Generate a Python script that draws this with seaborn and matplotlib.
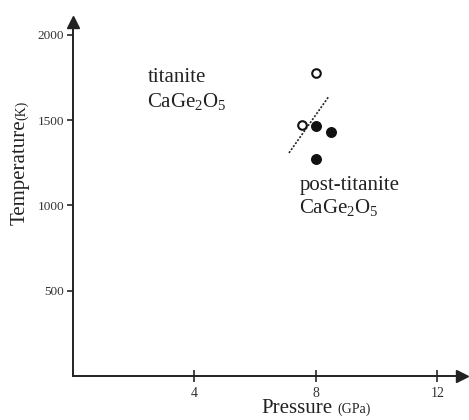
import numpy as np
import pandas as pd
import matplotlib
matplotlib.use("Agg")
import matplotlib.pyplot as plt
import seaborn as sns

# data
open_p = [8.0, 7.55]
open_t = [1775, 1470]
filled_p = [8.0, 8.5, 8.0]
filled_t = [1468, 1430, 1272]
boundary_p = [7.12, 8.44]
boundary_t = [1308, 1642]
xticks = [4, 8, 12]
yticks = [500, 1000, 1500, 2000]

sns.set_style("ticks")
plt.rcParams['font.family'] = ['Liberation Serif', 'DejaVu Serif']
plt.rcParams['mathtext.fontset'] = 'custom'
plt.rcParams['mathtext.rm'] = 'Liberation Serif'
plt.rcParams['mathtext.it'] = 'Liberation Serif:italic'

fig = plt.figure(figsize=(4.69, 4.2), dpi=100, facecolor='white')
ax = fig.add_axes([0.1546, 0.1048, 0.8305, 0.843])

sns.lineplot(x=boundary_p, y=boundary_t, ax=ax, color='#222222',
             linewidth=1.2, linestyle=(0, (1.2, 1.0)))
sns.scatterplot(x=filled_p, y=filled_t, ax=ax, color='#111111', s=50,
                edgecolor='#111111', linewidth=0.8, zorder=3)
sns.scatterplot(x=open_p, y=open_t, ax=ax, facecolor='white', s=38,
                edgecolor='#111111', linewidth=1.5, zorder=3)

ax.set_xlim(0, 12.81)
ax.set_ylim(0, 2076)
ax.set_xticks(xticks)
ax.set_yticks(yticks)
ax.set_xticklabels([str(v) for v in xticks], fontsize=10, color='#333333')
ax.set_yticklabels([str(v) for v in yticks], fontsize=9.5, color='#333333')
ax.tick_params(axis='x', direction='inout', length=8, width=1.2, pad=4)
ax.tick_params(axis='y', direction='out', length=4, width=1.2, pad=2)
for s in ['top', 'right']:
    ax.spines[s].set_visible(False)
for s in ['left', 'bottom']:
    ax.spines[s].set_linewidth(1.4)
    ax.spines[s].set_color('#222222')
ax.set_xlabel('')
ax.set_ylabel('')

# arrow heads
ax.plot(1, 0, marker='>', color='#222222', markersize=9,
        transform=ax.transAxes, clip_on=False)
ax.plot(0, 1, marker='^', color='#222222', markersize=9,
        transform=ax.transAxes, clip_on=False)

# phase labels
txt = dict(fontsize=15, color='#222222', ha='left', va='baseline')
ax.text(2.48, 1724, 'titanite', **txt)
ax.text(2.45, 1578, r'$\mathrm{CaGe_2O_5}$', **txt)
ax.text(7.48, 1091, 'post-titanite', **txt)
ax.text(7.45, 956, r'$\mathrm{CaGe_2O_5}$', **txt)

# axis titles
fig.text(261 / 469, 0.016, 'Pressure', fontsize=15, color='#222222',
         ha='left', va='baseline')
fig.text(337 / 469, 0.016, '(GPa)', fontsize=10, color='#222222',
         ha='left', va='baseline')
fig.text(25 / 469, 1 - 225 / 420, 'Temperature', fontsize=15, color='#222222',
         rotation=90, rotation_mode='anchor', ha='left', va='baseline')
fig.text(25 / 469, 1 - 120 / 420, '(K)', fontsize=10, color='#222222',
         rotation=90, rotation_mode='anchor', ha='left', va='baseline')

fig.savefig('out.png', dpi=100, facecolor='white')
